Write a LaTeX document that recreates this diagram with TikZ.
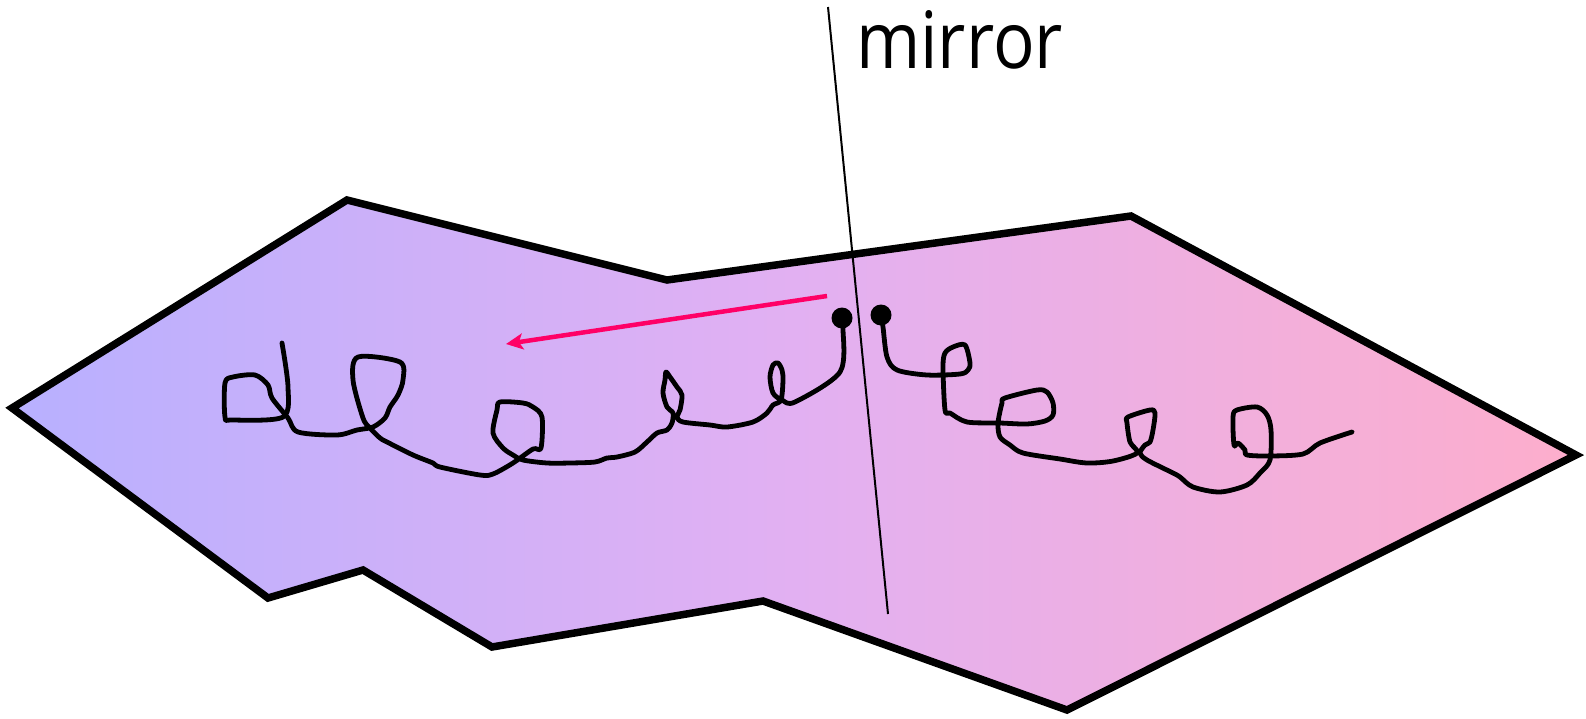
\documentclass[tikz,border=0pt]{standalone}
\usepackage{fontspec}
\setmainfont{Open Sans}
\usetikzlibrary{arrows.meta}
\definecolor{lavL}{RGB}{184,176,255}
\definecolor{lavM}{RGB}{226,176,242}
\definecolor{pinkR}{RGB}{253,174,204}
\definecolor{arrowpink}{RGB}{255,0,102}
\tikzset{
  region/.style={line width=7.5pt, line join=miter, left color=lavL, right color=pinkR, middle color=lavM},
  squiggle/.style={line width=4.8pt, line join=round, line cap=round},
  mirrorline/.style={line width=2pt},
  dotnode/.style={circle, fill=black, inner sep=0pt, minimum size=21pt},
  motion/.style={line width=4.5pt, arrowpink, -{Stealth[length=17pt,width=16pt,inset=4pt]}},
  label/.style={font=\fontsize{79}{82}\selectfont, inner sep=0pt, anchor=base west}
}
\begin{document}
\begin{tikzpicture}[x=1pt,y=-1pt]
\useasboundingbox (0,0) rectangle (1586,718);
% region
\draw[region] (12,408) -- (347,200) -- (667,280) -- (1131,216) -- (1576,455)
  -- (1067,710) -- (763,601) -- (492,647) -- (363,570) -- (268,598) -- cycle;
% dots
\node[dotnode] (dl) at (842,318) {};
\node[dotnode] (dr) at (881,315) {};
% left squiggle
\draw[squiggle] plot[smooth, tension=0.5] coordinates {
 (842,318) (843,328) (840,372) (795,402) (782,400) (773,393) (770,377) (773,365) (778,363)
 (782,370) (783,380) (781,400) (773,405) (767,413) (753,422) (727,427) (710,425) (683,422)
 (677,417) (680,410) (682,395) (677,387) (670,377) (666,372) (665,380) (663,393) (667,407)
 (673,413) (672,423) (667,430) (657,433) (647,442) (635,452) (617,457) (607,458) (595,462)
 (570,463) (547,463) (523,460) (513,455) (503,448) (493,433) (497,410) (500,402) (523,403)
 (533,407) (542,417) (541,448) (533,449) (513,463) (493,474) (480,475) (440,467) (433,463)
 (413,455) (387,442) (380,438) (370,428) (363,418) (353,380) (358,357) (400,362) (403,380)
 (398,395) (390,407) (385,418) (373,427) (357,430) (337,435) (298,432) (288,418) (272,398)
 (268,385) (255,375) (233,377) (225,383) (225,417) (232,420) (283,417) (288,387) (282,343)};
% right squiggle
\draw[squiggle] plot[smooth, tension=0.5] coordinates {
 (881,315) (883,327) (887,357) (897,370) (927,375) (960,374) (968,370) (970,363) (965,345)
 (953,347) (945,353) (943,367) (945,410) (950,413) (967,422) (1000,423) (1027,424) (1045,421)
 (1053,415) (1053,403) (1047,392) (1037,390) (1005,398) (1002,403) (998,423) (1000,437)
 (1010,445) (1023,453) (1060,459) (1087,463) (1113,461) (1137,453) (1130,442) (1127,423)
 (1128,417) (1150,410) (1155,413) (1153,430) (1150,442) (1145,445) (1140,453) (1147,460)
 (1173,473) (1180,477) (1193,487) (1220,492) (1247,485) (1260,473) (1270,460) (1271,430)
 (1267,415) (1257,407) (1237,410) (1233,417) (1234,445) (1238,443) (1245,450) (1247,455)
 (1270,456) (1303,454) (1320,443) (1352,432)};
% mirror
\coordinate (mtop) at (828,7);
\coordinate (mbot) at (888,614);
\draw[mirrorline] (mtop) -- (mbot);
\node[label] (mlabel) at (856,68) {\scalebox{0.875}[1]{mirror}};
% arrow
\coordinate (astart) at (827,296);
\coordinate (aend) at (506,344);
\draw[motion] (astart) -- (aend);
\end{tikzpicture}
\end{document}
